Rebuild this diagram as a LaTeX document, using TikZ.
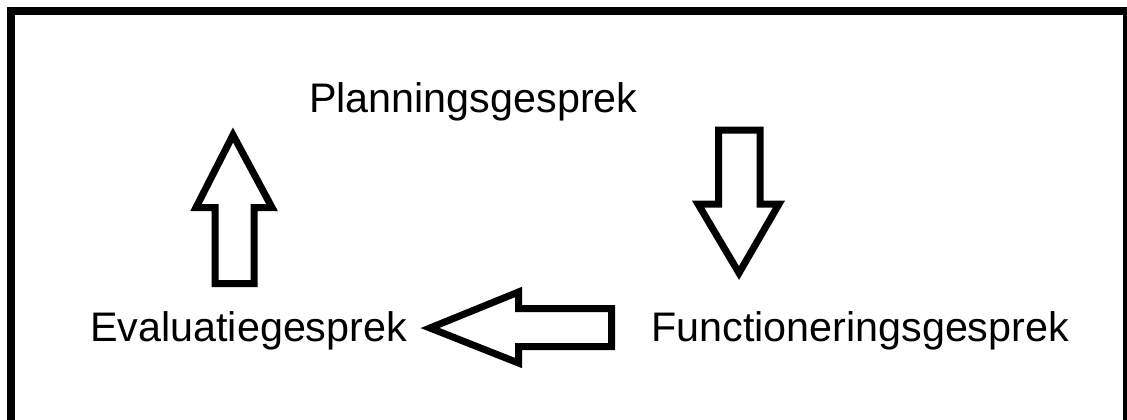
\documentclass[tikz,border=0pt]{standalone}
\usepackage{fontspec}
\setmainfont{Liberation Sans}
\begin{document}
\begin{tikzpicture}[x=1pt,y=-1pt,
  frame/.style={draw=black,line width=8pt},
  blockarrow/.style={draw=black,fill=white,line width=7pt,line join=miter},
  label/.style={anchor=base west,inner sep=0pt,font=\fontsize{41.3}{48}\selectfont}]
\useasboundingbox (0,0) rectangle (1127,420);
\begin{scope}
\clip (0,0) rectangle (1127,420);
\draw[frame] (11,11.5) rectangle (1127,432);
\end{scope}
\node[label] (plan) at (309,112) {Planningsgesprek};
\node[label] (eval) at (90,341) {Evaluatiegesprek};
\node[label] (func) at (651,341) {Functioneringsgesprek};
% up arrow (evaluation -> planning)
\draw[blockarrow] (215,283.5) -- (215,207.5) -- (196,207.5) -- (233,135) -- (272,207.5) -- (254,207.5) -- (254,283.5) -- cycle;
% down arrow (planning -> functioning)
\draw[blockarrow] (718.5,130) -- (760,130) -- (760,204) -- (779,204) -- (739,273) -- (698,204) -- (718.5,204) -- cycle;
% left arrow (functioning -> evaluation)
\draw[blockarrow] (611.5,308.5) -- (518.5,308.5) -- (518.5,292) -- (430,328) -- (518.5,363) -- (518.5,346.5) -- (611.5,346.5) -- cycle;
\end{tikzpicture}
\end{document}
